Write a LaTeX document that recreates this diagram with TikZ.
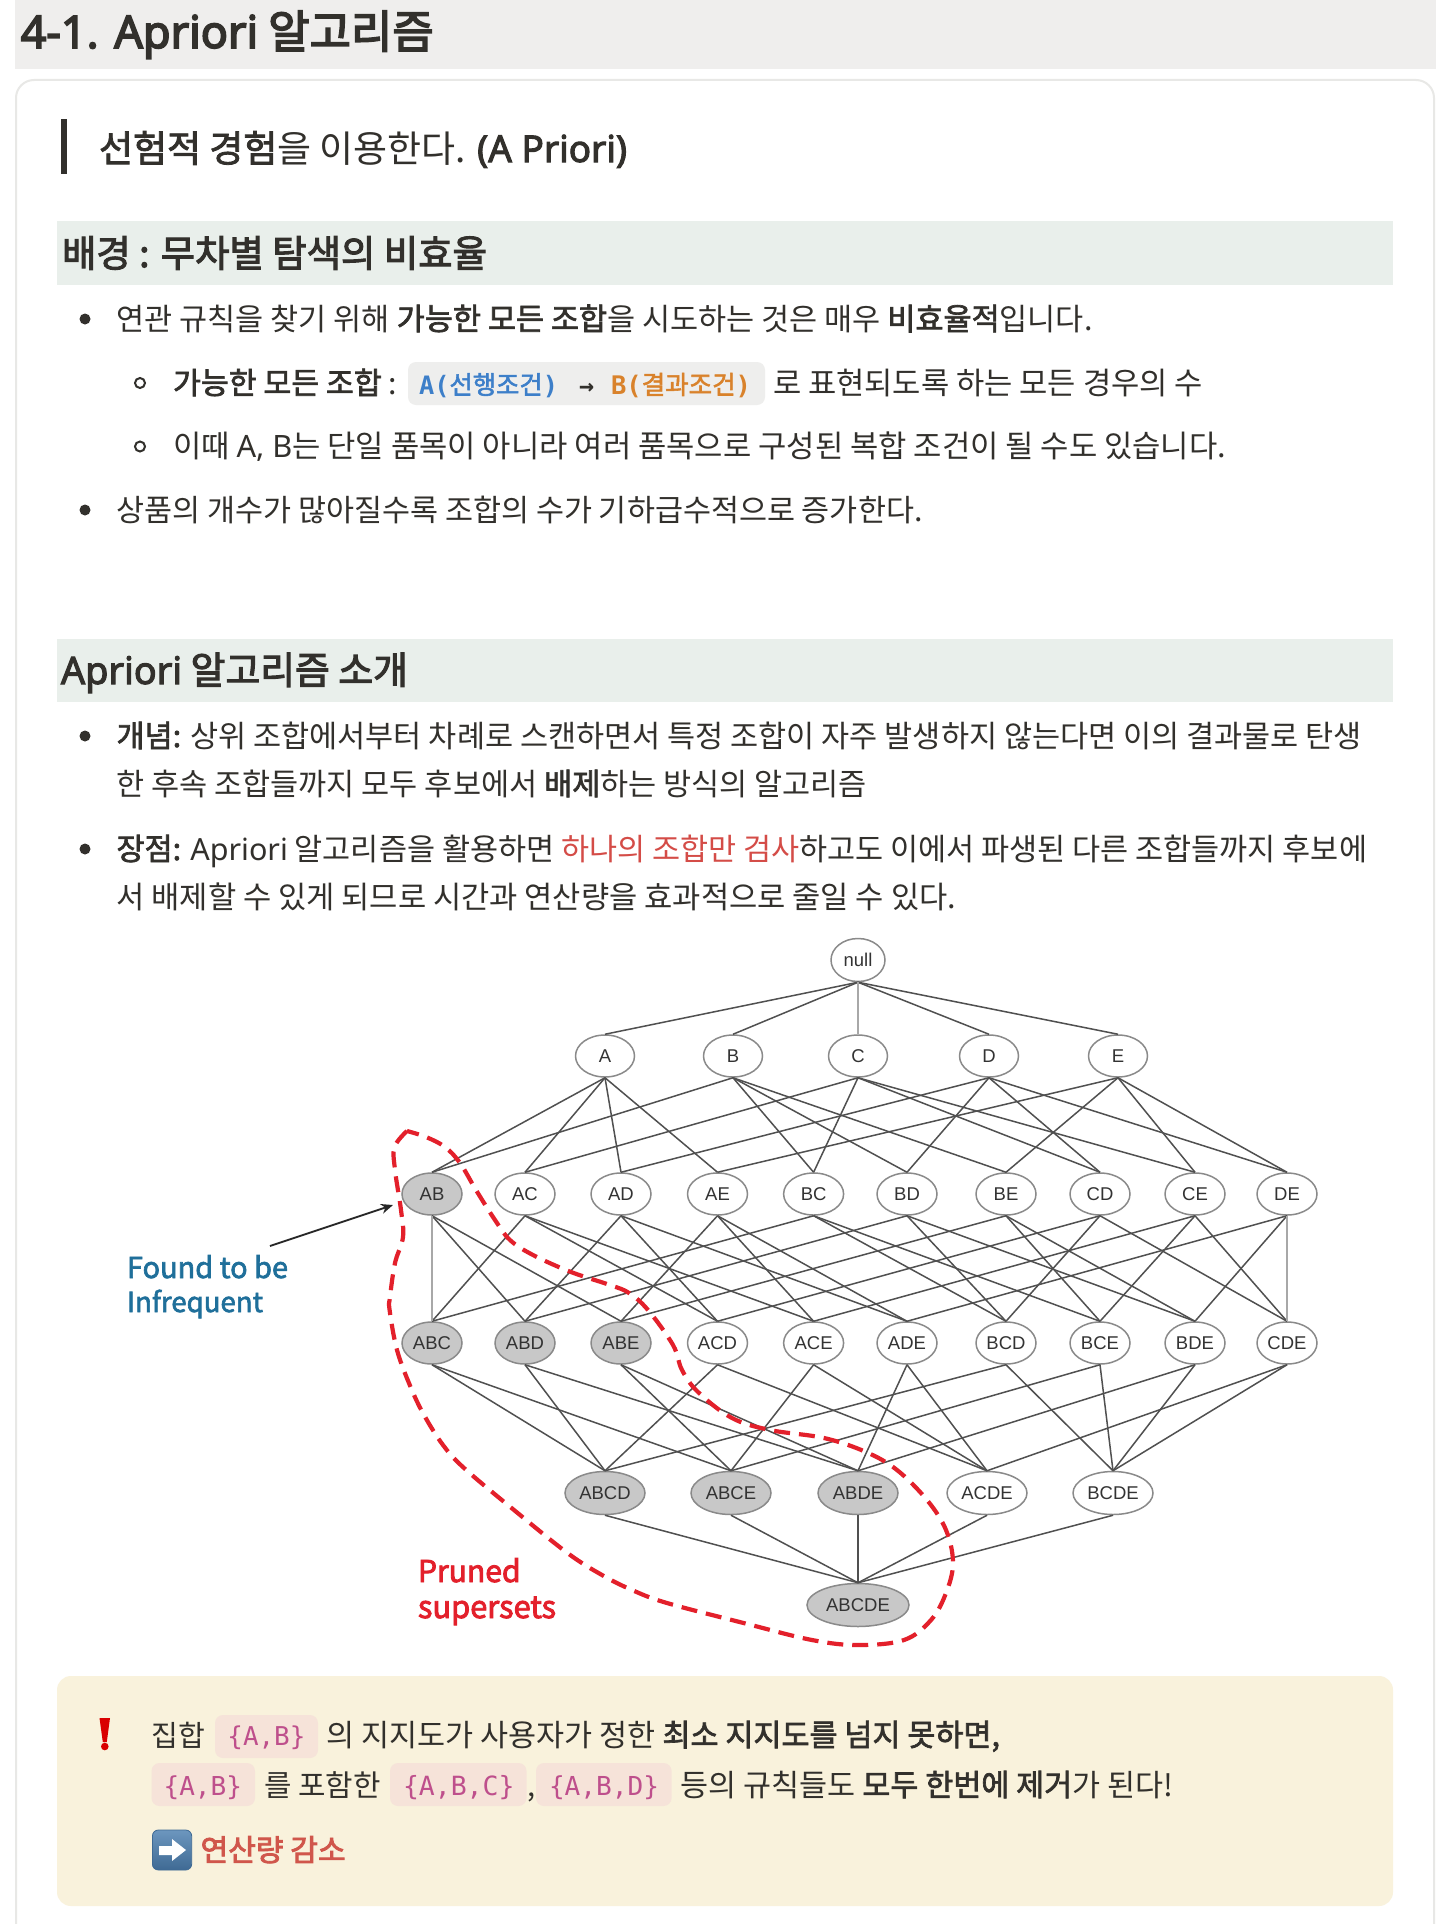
\documentclass[tikz,border=0pt]{standalone}
\usepackage{fontspec}
\usepackage{graphicx}
\usetikzlibrary{shapes.geometric,arrows.meta}
\setmainfont{Noto Sans CJK KR}[BoldFont={Noto Sans CJK KR},BoldFeatures={FakeBold=2.2}]
\newfontfamily\latin{Noto Sans}[BoldFont={Noto Sans},BoldFeatures={FakeBold=2.2}]
\newfontfamily\heavykr{Noto Sans CJK KR}[FakeBold=3.6]
\newfontfamily\heavylt{Noto Sans}[FakeBold=3.6]
\newfontfamily\midkr{Noto Sans CJK KR}[FakeBold=2.8]
\newfontfamily\midlt{Noto Sans}[FakeBold=2.8]
\newfontfamily\latfont{Liberation Sans}
\newfontfamily\monofnt{DejaVu Sans Mono}
\definecolor{ink}{HTML}{32302C}
\definecolor{bandone}{HTML}{EFEEED}
\definecolor{bandtwo}{HTML}{E9EFEB}
\definecolor{cardline}{HTML}{E8E8E6}
\definecolor{chipgrey}{HTML}{EEEEED}
\definecolor{chippink}{HTML}{F6E3D9}
\definecolor{codepink}{HTML}{BE4F8C}
\definecolor{codeblue}{HTML}{3D7FC9}
\definecolor{codeorange}{HTML}{D9822B}
\definecolor{callout}{HTML}{F9F2DC}
\definecolor{notered}{HTML}{D44C47}
\definecolor{accred}{HTML}{D0564B}
\definecolor{pruned}{HTML}{E3202B}
\definecolor{foundblue}{HTML}{1F6F9A}
\definecolor{edgegrey}{HTML}{505050}
\definecolor{edgelight}{HTML}{A8A8A8}
\definecolor{nodeline}{HTML}{8A8A8A}
\definecolor{nodefill}{HTML}{C8C8C8}
\definecolor{emojitop}{HTML}{6C96BE}
\definecolor{emojibot}{HTML}{3F6A94}
\tikzset{
  lat/.style={ellipse,draw=nodeline,fill=white,line width=1.5pt,inner sep=0pt,text=black!80,
    font=\latfont\fontsize{18.5}{18.5}\selectfont},
  lvlzero/.style={lat,minimum width=54pt,minimum height=43pt},
  lvlone/.style={lat,minimum width=59pt,minimum height=42pt},
  lvltwo/.style={lat,minimum width=60pt,minimum height=42pt},
  lvlfour/.style={lat,minimum width=80pt,minimum height=43pt},
  lvlfive/.style={lat,minimum width=102pt,minimum height=43pt},
  off/.style={fill=nodefill},
  edge/.style={draw=edgegrey,line width=1.5pt},
  edgev/.style={draw=edgelight,line width=1.8pt},
  chipg/.style={fill=chipgrey,rounded corners=8pt},
  chipp/.style={fill=chippink,rounded corners=8pt},
  tx/.style={anchor=base west,inner sep=0pt,outer sep=0pt,text=ink},
  bul/.style={circle,fill=ink,inner sep=0pt,minimum size=11pt},
  sbul/.style={circle,draw=ink,line width=2pt,inner sep=0pt,minimum size=10pt},
}
\newcommand{\tline}[6]{\node[tx] (#1) at (#2,#3) {\resizebox{#4pt}{!}{\fontsize{#5}{#5}\selectfont #6}};}
\newcommand{\cd}[1]{{\monofnt #1}}
\newcommand{\lt}[1]{{\latin #1}}
\begin{document}
\begin{tikzpicture}[x=1pt,y=-1pt]
\useasboundingbox (0,0) rectangle (1439,1924);
\fill[white] (0,0) rectangle (1439,1924);
% bands and card
\fill[bandone] (15,0) rectangle (1436,69);
\draw[cardline,line width=2pt,rounded corners=18pt] (16,1960) -- (16,80) -- (1434,80) -- (1434,1960);
\fill[ink] (61,119) rectangle (67,174);
\fill[bandtwo] (57,221) rectangle (1393,285);
\fill[bandtwo] (57,639) rectangle (1393,702);
\fill[callout,rounded corners=14pt] (57,1676) rectangle (1393,1906);
\fill[chipg] (408,362) rectangle (765,405);
\fill[chipp] (215,1715) rectangle (318,1758);
\fill[chipp] (151.5,1763) rectangle (255,1806);
\fill[chipp] (390,1763) rectangle (526.5,1806);
\fill[chipp] (536,1763) rectangle (671.6,1806);
% heading texts
\tline{title}{20.7}{48}{413}{43}{{\heavylt 4-1. Apriori} {\heavykr 알고리즘}}
\tline{quote}{99}{162}{528}{35}{\textbf{선험적 경험}을 이용한다. {\midlt (A Priori)}}
\tline{headone}{62}{267}{425}{37}{\midkr 배경 : 무차별 탐색의 비효율}
\tline{headtwo}{61}{684}{347}{37}{{\midlt Apriori} {\midkr 알고리즘 소개}}
% bullets first block
\node[bul] (b1) at (85,319) {};
\tline{l1}{116.5}{330}{976}{29}{연관 규칙을 찾기 위해 \textbf{가능한 모든 조합}을 시도하는 것은 매우 \textbf{비효율적}입니다.}
\node[sbul] (b2) at (140,383) {};
\tline{l2a}{173}{394}{224}{29}{\textbf{가능한 모든 조합} :}
\tline{l2b}{419}{394}{139}{26}{\color{codeblue}\cd{\bfseries A(}{\bfseries 선행조건}\cd{\bfseries )}}
\tline{l2c}{579}{394}{15}{22}{\cd{\bfseries →}}
\tline{l2d}{611}{394}{140}{26}{\color{codeorange}\cd{\bfseries B(}{\bfseries 결과조건}\cd{\bfseries )}}
\tline{l2e}{773}{394}{430}{29}{로 표현되도록 하는 모든 경우의 수}
\node[sbul] (b3) at (140,446.5) {};
\tline{l3}{173}{457}{1053}{29}{이때 \lt{A, B}는 단일 품목이 아니라 여러 품목으로 구성된 복합 조건이 될 수도 있습니다.}
\node[bul] (b4) at (85,510) {};
\tline{l4}{116.5}{521}{806}{29}{상품의 개수가 많아질수록 조합의 수가 기하급수적으로 증가한다.}
% bullets second block
\node[bul] (b5) at (85,736) {};
\tline{l5}{116.5}{747}{1245.5}{29}{\textbf{개념:} 상위 조합에서부터 차례로 스캔하면서 특정 조합이 자주 발생하지 않는다면 이의 결과물로 탄생}
\tline{l6}{116.5}{795}{750.5}{29}{한 후속 조합들까지 모두 후보에서 \textbf{배제}하는 방식의 알고리즘}
\node[bul] (b6) at (85,849) {};
\tline{l7}{116.5}{860}{1250.5}{29}{\textbf{장점:} \lt{Apriori} 알고리즘을 활용하면 {\color{notered}하나의 조합만 검사}하고도 이에서 파생된 다른 조합들까지 후보에}
\tline{l8}{116.5}{908}{839.5}{29}{서 배제할 수 있게 되므로 시간과 연산량을 효과적으로 줄일 수 있다.}
% lattice nodes
\node[lvlzero] (null) at (858,960) {null};
\foreach \n/\x in {A/605,B/733,C/858,D/989,E/1118} \node[lvlone] (\n) at (\x,1056) {\n};
\node[lvltwo,off] (AB) at (432,1194) {AB};
\foreach \n/\x in {AC/525,AD/621,AE/717.5,BC/813.6,BD/907,BE/1006,CD/1100,CE/1195,DE/1287} \node[lvltwo] (\n) at (\x,1194) {\n};
\foreach \n/\x in {ABC/432,ABD/525,ABE/621} \node[lvltwo,off] (\n) at (\x,1343) {\n};
\foreach \n/\x in {ACD/717.5,ACE/813.6,ADE/907,BCD/1006,BCE/1100,BDE/1195,CDE/1287} \node[lvltwo] (\n) at (\x,1343) {\n};
\foreach \n/\x in {ABCD/605,ABCE/731,ABDE/858} \node[lvlfour,off] (\n) at (\x,1493) {\n};
\foreach \n/\x in {ACDE/987,BCDE/1113} \node[lvlfour] (\n) at (\x,1493) {\n};
\node[lvlfive,off] (ABCDE) at (858,1605) {ABCDE};
% lattice edges
\foreach \a/\b in {null/A,null/B,null/D,null/E,
  A/AB,A/AC,A/AD,A/AE,B/AB,B/BC,B/BD,B/BE,C/AC,C/BC,C/CD,C/CE,D/AD,D/BD,D/CD,D/DE,E/AE,E/BE,E/CE,E/DE,
  AB/ABD,AB/ABE,AC/ABC,AC/ACD,AC/ACE,AD/ABD,AD/ACD,AD/ADE,AE/ABE,AE/ACE,AE/ADE,
  BC/ABC,BC/BCD,BC/BCE,BD/ABD,BD/BCD,BD/BDE,BE/ABE,BE/BCE,BE/BDE,
  CD/ACD,CD/BCD,CD/CDE,CE/ACE,CE/BCE,CE/CDE,DE/ADE,DE/BDE,
  ABC/ABCD,ABC/ABCE,ABD/ABCD,ABD/ABDE,ABE/ABCE,ABE/ABDE,ACD/ABCD,ACD/ACDE,ACE/ABCE,ACE/ACDE,ADE/ABDE,ADE/ACDE,
  BCD/ABCD,BCD/BCDE,BCE/ABCE,BCE/BCDE,BDE/ABDE,BDE/BCDE,CDE/ACDE,CDE/BCDE,
  ABCD/ABCDE,ABCE/ABCDE,ABDE/ABCDE,ACDE/ABCDE,BCDE/ABCDE}
  \draw[edge] (\a.south) -- (\b.north);
\foreach \a/\b in {null/C,AB/ABC,DE/CDE}
  \draw[edgev] (\a.south) -- (\b.north);
% red pruned boundary
\draw[pruned,line width=4.2pt,dash pattern=on 16pt off 9pt] plot[smooth,tension=0.6] coordinates {
 (407,1131) (394.5,1147) (395,1170) (401,1210) (403,1237) (395,1263) (390,1297) (389.6,1310) (397,1350)
 (410.6,1387) (424,1415) (443,1445) (464,1468) (514,1510) (567.5,1553) (602,1575)
 (632,1590) (667,1603) (743.6,1623) (812,1640)
 (858,1645) (904,1640) (931,1620) (946,1593) (953,1563) (946,1530) (927,1500) (897,1470) (866,1452)
 (824,1438) (770,1430) (732,1418) (698,1392) (682,1370) (673,1345) (648,1310) (629,1293) (610,1285)
 (571,1272) (533,1255) (510,1240) (495,1220) (476,1190) (460,1163) (445,1147) (426,1137) (407,1131)};
% side labels
\tline{found}{127}{1278}{161}{30}{\color{foundblue}\bfseries Found to be}
\tline{infreq}{127}{1312}{136}{30}{\color{foundblue}\bfseries Infrequent}
\tline{prun}{418}{1582}{102.6}{31}{\color{pruned}\midkr Pruned}
\tline{supers}{418}{1618}{138}{31}{\color{pruned}\midkr supersets}
\coordinate (arrowfrom) at (270,1246);
\coordinate (arrowto) at (393,1205);
\draw[line width=1.8pt,draw=black!85,-{Stealth[length=12pt,width=10pt]}] (arrowfrom) -- (arrowto);
% callout
\fill[red!85!black] (99.5,1718) -- (110,1718) -- (106.8,1742) -- (102.8,1742) -- cycle;
\fill[red!85!black] (104.8,1746.5) circle (3.8pt);
\tline{c1a}{151.5}{1746}{53.6}{29}{집합}
\tline{c1b}{227.4}{1745}{78}{26}{\color{codepink}\cd{\{A,B\}}}
\tline{c1c}{326.5}{1746}{673.5}{29}{의 지지도가 사용자가 정한 \textbf{최소 지지도를 넘지 못하면,}}
\tline{c2a}{163.6}{1795}{78.4}{26}{\color{codepink}\cd{\{A,B\}}}
\tline{c2b}{264}{1796}{116.5}{29}{를 포함한}
\tline{c2c}{403}{1795}{111.5}{26}{\color{codepink}\cd{\{A,B,C\}}}
\node[tx,font=\fontsize{29}{29}\selectfont] (c2d) at (527.5,1796) {,};
\tline{c2e}{549}{1795}{110}{26}{\color{codepink}\cd{\{A,B,D\}}}
\tline{c2f}{680.5}{1796}{492.5}{29}{등의 규칙들도 \textbf{모두 한번에 제거}가 된다!}
\shade[top color=emojitop,bottom color=emojibot,rounded corners=6pt,draw=emojibot,line width=0.8pt] (152.4,1830) rectangle (191.7,1870);
\fill[white] (159,1846) -- (172,1846) -- (172,1839) -- (186,1850) -- (172,1861) -- (172,1855) -- (159,1855) -- cycle;
\tline{c3}{200.6}{1861}{145}{30}{\color{accred}\midkr 연산량 감소}
\end{tikzpicture}
\end{document}
